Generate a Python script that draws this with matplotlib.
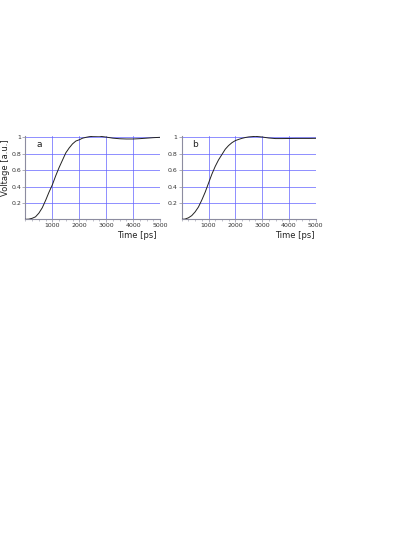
#!/usr/bin/env python3
import matplotlib
matplotlib.use("Agg")
import matplotlib.pyplot as plt
from matplotlib.ticker import MultipleLocator, FixedLocator

# time axis in ps (finer sampling over the rising edge)
time_ps = [0, 125, 250, 375, 500, 625, 750, 875, 1000, 1125, 1250, 1375, 1500,
           1625, 1750, 1875, 2000, 2125, 2250, 2375, 2500, 2750, 3000, 3250,
           3500, 3750, 4000, 4250, 4500, 4750, 5000]

# panel a: step response with slight overshoot and dip
voltage_a = [0.0, 0.002, 0.012, 0.03, 0.075, 0.14, 0.23, 0.33, 0.42, 0.53, 0.63,
             0.72, 0.81, 0.87, 0.92, 0.955, 0.97, 0.99, 1.0, 1.008, 1.012, 1.014,
             1.003, 0.99, 0.983, 0.98, 0.98, 0.984, 0.99, 0.996, 1.0]

# panel b
voltage_b = [0.0, 0.003, 0.018, 0.045, 0.09, 0.15, 0.235, 0.33, 0.44, 0.55, 0.645,
             0.725, 0.79, 0.855, 0.9, 0.935, 0.96, 0.975, 0.988, 0.998, 1.005,
             1.012, 1.004, 0.992, 0.985, 0.985, 0.986, 0.987, 0.987, 0.987, 0.988]

x_ticks = [1000, 2000, 3000, 4000, 5000]
y_ticks = [0.2, 0.4, 0.6, 0.8, 1.0]
y_tick_labels = ["0.2", "0.4", "0.6", "0.8", "1"]
panels = [("a", voltage_a), ("b", voltage_b)]

W, H = 415, 537
fig = plt.figure(figsize=(W / 100, H / 100), dpi=100)

grid_col = "#6262ff"
spine_col = "#8c8ca0"

# axes rectangles in pixels: left, right
boxes = [(25.4, 160.0), (181.7, 315.7)]
y_top_px, y_bot_px = 135.7, 219.3

for (label, volts), (xl, xr) in zip(panels, boxes):
    ax = fig.add_axes([xl / W, 1 - y_bot_px / H, (xr - xl) / W, (y_bot_px - y_top_px) / H])
    ax.plot(time_ps, volts, color="#222222", lw=0.7, zorder=3)
    ax.set_xlim(0, 5000)
    ax.set_ylim(0, 1.02)

    ax.xaxis.set_major_locator(FixedLocator(x_ticks))
    ax.xaxis.set_minor_locator(MultipleLocator(250))
    ax.set_yticks(y_ticks)
    ax.set_yticklabels(y_tick_labels)

    ax.grid(True, which="major", color=grid_col, lw=0.5)
    ax.set_axisbelow(True)

    for s in ("top", "right"):
        ax.spines[s].set_visible(False)
    for s in ("left", "bottom"):
        ax.spines[s].set_color(spine_col)
        ax.spines[s].set_linewidth(0.8)

    ax.tick_params(axis="both", which="major", length=2, width=0.5,
                   color=spine_col, labelsize=4.5, pad=1, labelcolor="#333333")
    ax.tick_params(axis="x", which="minor", length=1.2, width=0.4, color=spine_col)

    ax.text(0.08, 0.9, label, transform=ax.transAxes, fontsize=6.5,
            color="#222222", ha="left", va="center")

fig.text(5 / W, 1 - 168 / H, "Voltage [a.u.]", rotation=90, fontsize=6,
         ha="center", va="center", color="#222222")
fig.text(157 / W, 1 - 235.7 / H, "Time [ps]", fontsize=6,
         ha="right", va="center", color="#222222")
fig.text(315 / W, 1 - 235.7 / H, "Time [ps]", fontsize=6,
         ha="right", va="center", color="#222222")

fig.savefig("out.png", dpi=100)
